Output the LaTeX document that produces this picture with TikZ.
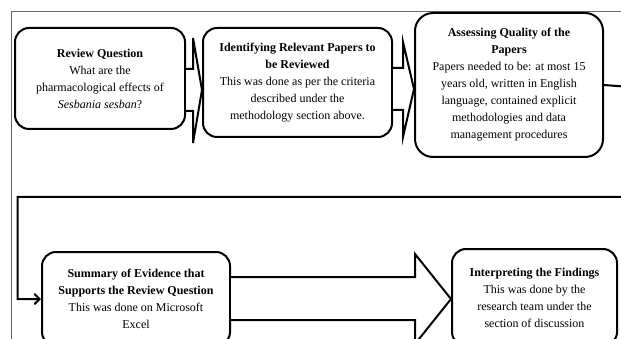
\documentclass[tikz,border=0pt]{standalone}
\usepackage{fontspec}
\setmainfont{Liberation Serif}
\usetikzlibrary{arrows}

\begin{document}
\begin{tikzpicture}[x=1pt,y=-1pt,
  box/.style={draw, line width=2pt, rounded corners=14pt, align=center,
    font=\fontsize{12}{17}\selectfont, inner sep=2pt},
  blockarrow/.style={draw, fill=white, line width=2pt, line join=miter},
  flow/.style={->, >=angle 90, line width=2pt}]
\useasboundingbox (0,0) rectangle (621,339);
\fill[white] (0,0) rectangle (621,339);

% FRAME
\draw[black!60!, line width=1pt] (630,12) -- (11,12) -- (11,345);

% BOXES
\node[box, minimum width=170pt, minimum height=101pt] (question) at (100,78.5)
  {\textbf{Review Question}\\What are the\\pharmacological effects of\\\textit{Sesbania sesban}?};
\node[box, minimum width=189pt, minimum height=109pt] (find) at (297.5,82.5)
  {\textbf{Identifying Relevant Papers to}\\\textbf{be Reviewed}\\This was done as per the criteria\\described under the\\methodology section above.};
\node[box, rounded corners=18pt, minimum width=188pt, minimum height=144pt] (assess) at (509,85)
  {\textbf{Assessing Quality of the}\\\textbf{Papers}\\Papers needed to be: at most 15\\years old, written in English\\language, contained explicit\\methodologies and data\\management procedures};
\node[box, minimum width=188pt, minimum height=94pt] (summ) at (136,299)
  {\textbf{Summary of Evidence that}\\\textbf{Supports the Review Question}\\This was done on Microsoft\\Excel};
\node[box, minimum width=165pt, minimum height=97pt] (interp) at (534.5,297.5)
  {\textbf{Interpreting the Findings}\\This was done by the\\research team under the\\section of discussion};

% BLOCK ARROWS
\draw[blockarrow] (question.east |- 0,69) -- (193,69) -- (193,38) -- (find.west |- 0,90)
  -- (193,143) -- (193,111) -- (question.east |- 0,111);
\draw[blockarrow] (find.east |- 0,68) -- (403,68) -- (403,42) -- (assess.west |- 0,89)
  -- (403,137) -- (403,110) -- (find.east |- 0,110);
\draw[blockarrow] (summ.east |- 0,277) -- (415,277) -- (415,254) -- (interp.west |- 0,299)
  -- (415,344) -- (415,320) -- (summ.east |- 0,320);

% RETURN LINE
\draw[flow] (assess.east) -- (630,87) |- (17.5,197) |- (summ.west);
\end{tikzpicture}
\end{document}
